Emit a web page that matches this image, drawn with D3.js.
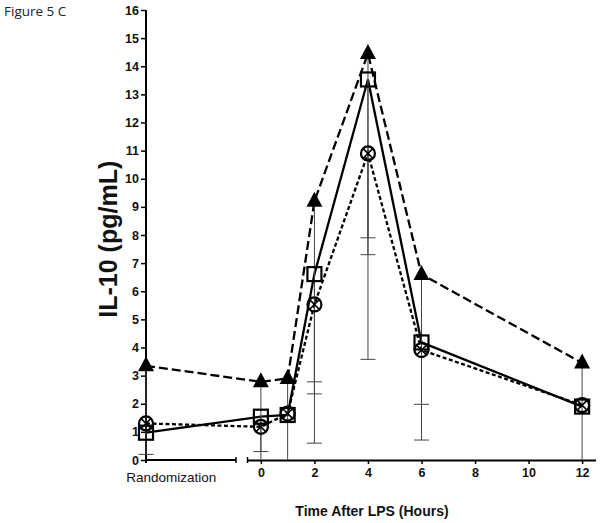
<!DOCTYPE html>
<html>
<head>
<meta charset="utf-8">
<script src="https://cdn.jsdelivr.net/npm/d3@7"></script>
<style>
  html, body { margin: 0; padding: 0; background: #fff; }
  svg { display: block; }
</style>
</head>
<body>
<script>
// ---- data ----
const categories = ["Randomization", "0", "1", "2", "4", "6", "12"];
const hours = [null, 0, 1, 2, 4, 6, 12];
const triangleMean = [3.35, 2.78, 2.9, 9.2, 14.45, 6.6, 3.45];
const squareMean   = [0.97, 1.54, 1.6, 6.61, 13.53, 4.18, 1.9];
const circleMean   = [1.3, 1.18, 1.65, 5.53, 10.9, 3.91, 1.95];
const triangleLower = [0.2, -0.5, -0.5, 0.6, 7.9, 0.71, -0.5];
const squareLower   = [null, 0.3, null, 2.78, 7.3, 1.98, null];
const circleLower   = [null, null, null, 2.35, 3.58, null, null];
const xTickValues = [0, 2, 4, 6, 8, 10, 12];
const yTickValues = d3.range(0, 17);
const xTitle = "Time After LPS (Hours)";
const yTitle = "IL-10 (pg/mL)";
const figLabel = "Figure 5 C";

// ---- layout ----
const W = 601, H = 523;
const svg = d3.select("body").append("svg").attr("width", W).attr("height", H);

const y = d3.scaleLinear().domain([0, 16]).range([460, 10]);
const xRand = d3.scaleLinear().domain([0, 1]).range([146, 236]);
const xHour = d3.scaleLinear().domain([-0.5, 12.5]).range([247.5, 595.5]);
const xPos = i => hours[i] === null ? xRand(0) : xHour(hours[i]);

const fontBold = "'Liberation Sans', Arial, sans-serif";

// figure label
svg.append("text").attr("x", 4).attr("y", 16)
  .attr("font-family", "'Open Sans', sans-serif").attr("font-size", 13.5)
  .attr("fill", "#222").text(figLabel);

// y axis
const yAxis = d3.axisLeft(y).tickValues(yTickValues).tickSize(5).tickPadding(2).tickSizeOuter(0);
const gy = svg.append("g").attr("transform", `translate(${xRand(0)},0)`).call(yAxis);
gy.select(".domain").attr("stroke-width", 2).attr("d", `M0,${y(16)}V${y(0) + 3}`);
gy.selectAll(".tick line").attr("stroke-width", 1.5);
gy.selectAll(".tick text").attr("font-family", fontBold).attr("font-weight", "bold")
  .attr("font-size", 12.5).attr("fill", "#111");

// x axis: randomization segment
const gxr = svg.append("g").attr("transform", `translate(0,${y(0)})`);
gxr.append("line").attr("x1", xRand(0)).attr("x2", xRand(1)).attr("y1", 0).attr("y2", 0)
  .attr("stroke", "#000").attr("stroke-width", 2);
gxr.append("line").attr("x1", xRand(1)).attr("x2", xRand(1)).attr("y1", -3).attr("y2", 3)
  .attr("stroke", "#000").attr("stroke-width", 1.5);
gxr.append("text").attr("x", xRand(0.28)).attr("y", 22).attr("text-anchor", "middle")
  .attr("font-family", fontBold).attr("font-size", 13.5).attr("fill", "#111").text(categories[0]);

// x axis: hours segment
const xAxis = d3.axisBottom(xHour).tickValues(xTickValues).tickSize(4).tickPadding(4).tickSizeOuter(0);
const gx = svg.append("g").attr("transform", `translate(0,${y(0)})`).call(xAxis);
gx.select(".domain").attr("stroke-width", 2);
gx.selectAll(".tick line").attr("stroke-width", 1.5);
gx.selectAll(".tick text").attr("font-family", fontBold).attr("font-weight", "bold")
  .attr("font-size", 12.5).attr("fill", "#111");
gx.append("line").attr("x1", xHour(-0.5)).attr("x2", xHour(-0.5)).attr("y1", -3).attr("y2", 3)
  .attr("stroke", "#000").attr("stroke-width", 1.5);

// titles
svg.append("text").attr("x", xHour(4.15)).attr("y", 516).attr("text-anchor", "middle")
  .attr("font-family", fontBold).attr("font-weight", "bold").attr("font-size", 14)
  .attr("fill", "#111").text(xTitle);
svg.append("text").attr("transform", `translate(117,${y(7.85)}) rotate(-90)`)
  .attr("text-anchor", "middle")
  .attr("font-family", fontBold).attr("font-weight", "bold").attr("font-size", 25)
  .attr("fill", "#111").text(yTitle);

// ---- series ----
const series = [
  { mean: circleMean, lower: circleLower, dash: "4,2.5", marker: "circle" },
  { mean: squareMean, lower: squareLower, dash: null, marker: "square" },
  { mean: triangleMean, lower: triangleLower, dash: "9,4", marker: "triangle" }
];

const line = d3.line().x((d, i) => xPos(i)).y(d => y(d));
const plot = svg.append("g");

series.forEach(s => {
  plot.append("path").attr("d", line(s.mean)).attr("fill", "none")
    .attr("stroke", "#000").attr("stroke-width", 2.3)
    .attr("stroke-dasharray", s.dash);
});

// error bars
const eb = plot.append("g").attr("stroke", "#444").attr("stroke-width", 1);
series.forEach(s => {
  s.lower.forEach((lo, i) => {
    if (lo === null) return;
    const cx = xPos(i);
    const yl = y(Math.max(lo, 0));
    eb.append("line").attr("x1", cx).attr("x2", cx).attr("y1", y(s.mean[i])).attr("y2", yl);
    if (lo > 0) eb.append("line").attr("x1", cx - 7.5).attr("x2", cx + 7.5).attr("y1", yl).attr("y2", yl);
  });
});

// markers
series.forEach(s => {
  s.mean.forEach((v, i) => {
    const cx = xPos(i), cy = y(v);
    const g = plot.append("g").attr("transform", `translate(${cx},${cy})`);
    if (s.marker === "triangle") {
      g.append("path").attr("d", "M0,-9.5L8,5.5L-8,5.5Z").attr("fill", "#000");
    } else if (s.marker === "square") {
      g.append("rect").attr("x", -7).attr("y", -7).attr("width", 14).attr("height", 14)
        .attr("fill", "none").attr("stroke", "#000").attr("stroke-width", 2.2);
    } else {
      g.append("circle").attr("r", 7).attr("fill", "none").attr("stroke", "#000").attr("stroke-width", 2.2);
      g.append("path").attr("d", "M-4.8,-4.8L4.8,4.8M-4.8,4.8L4.8,-4.8")
        .attr("stroke", "#000").attr("stroke-width", 1.6);
    }
  });
});
</script>
</body>
</html>
